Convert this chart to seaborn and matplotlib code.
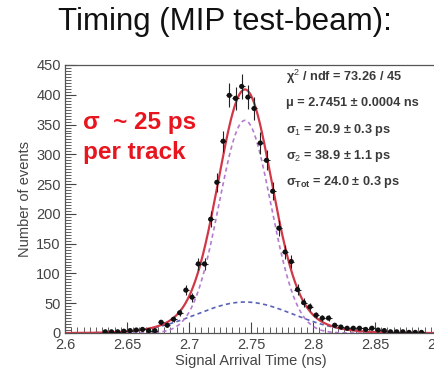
import numpy as np
import matplotlib
matplotlib.use("Agg")
import matplotlib.pyplot as plt
import seaborn as sns
from matplotlib.ticker import MultipleLocator

# bin centres (ns) and counts
bin_centers = [2.6325, 2.6375, 2.6425, 2.6475, 2.6525, 2.6575, 2.6625, 2.6675, 2.6725,
               2.6775, 2.6825, 2.6875, 2.6925, 2.6975, 2.7025, 2.7075, 2.7125, 2.7175,
               2.7225, 2.7275, 2.7325, 2.7375, 2.7425, 2.7475, 2.7525, 2.7575, 2.7625,
               2.7675, 2.7725, 2.7775, 2.7825, 2.7875, 2.7925, 2.7975, 2.8025, 2.8075,
               2.8125, 2.8175, 2.8225, 2.8275, 2.8325, 2.8375, 2.8425, 2.8475, 2.8525,
               2.8575, 2.8625, 2.8675, 2.8725, 2.8775, 2.8825, 2.8875]
counts = [2, 2, 2, 3, 4, 5, 6, 4, 4,
          18, 13, 23, 34, 72, 60, 116, 116, 191,
          253, 322, 399, 394, 414, 396, 377, 319, 290,
          238, 176, 136, 120, 73, 51, 44, 30, 25,
          25, 13, 10, 8, 8, 8, 6, 8, 5,
          4, 2, 2, 2, 1, 1, 1]
bin_width = 0.005

# fit parameters from the stats box
fit_mu = 2.7451
fit_sigma1 = 0.0209
fit_sigma2 = 0.0389
amp_narrow = 357
amp_wide = 52

stats_lines = ["\u03c7$^2$ / ndf = 73.26 / 45",
               "\u03bc = 2.7451 \u00b1 0.0004 ns",
               "\u03c3$_1$ = 20.9 \u00b1 0.3 ps",
               "\u03c3$_2$ = 38.9 \u00b1 1.1 ps",
               "\u03c3$_{Tot}$ = 24.0 \u00b1 0.3 ps"]

sns.set_style("white")
plt.rcParams['font.family'] = ['Liberation Sans', 'DejaVu Sans']
plt.rcParams['mathtext.fontset'] = 'custom'
plt.rcParams['mathtext.rm'] = 'Liberation Sans'
plt.rcParams['mathtext.it'] = 'Liberation Sans:bold'
plt.rcParams['mathtext.bf'] = 'Liberation Sans:bold'

W, H = 434, 380
fig = plt.figure(figsize=(W / 100, H / 100), dpi=100)
ax = fig.add_axes([65 / W, 47 / H, 372 / W, 268 / H])

x_fine = np.linspace(2.6, 2.9, 600)
g_narrow = amp_narrow * np.exp(-0.5 * ((x_fine - fit_mu) / fit_sigma1) ** 2)
g_wide = amp_wide * np.exp(-0.5 * ((x_fine - fit_mu) / fit_sigma2) ** 2)
total = g_narrow + g_wide

sns.lineplot(x=x_fine, y=g_wide, ax=ax, color='#5a62b8', lw=1.2, linestyle=(0, (2.5, 2)))
sns.lineplot(x=x_fine, y=g_narrow, ax=ax, color='#b57ad0', lw=1.2, linestyle=(0, (2.5, 2)))
sns.lineplot(x=x_fine, y=total, ax=ax, color='#d03848', lw=1.6)

yerr = np.sqrt(np.array(counts, dtype=float))
ax.errorbar(bin_centers, counts, yerr=yerr, xerr=bin_width / 2, fmt='none',
            ecolor='#222222', elinewidth=0.8, zorder=4)
sns.scatterplot(x=bin_centers, y=counts, ax=ax, color='#111111', s=14,
                edgecolor='none', zorder=5)

ax.set_xlim(2.6, 2.9)
ax.set_ylim(0, 450)
ax.xaxis.set_major_locator(MultipleLocator(0.05))
ax.xaxis.set_minor_locator(MultipleLocator(0.005))
ax.yaxis.set_major_locator(MultipleLocator(50))
ax.yaxis.set_minor_locator(MultipleLocator(5))
ax.set_xticks([2.6, 2.65, 2.7, 2.75, 2.8, 2.85, 2.9])
ax.set_xticklabels(['2.6', '2.65', '2.7', '2.75', '2.8', '2.85', '2.9'])
ax.tick_params(which='both', direction='in', colors='#444444', labelsize=10.5,
               top=False, right=False, bottom=True, left=True)
ax.tick_params(axis='x', which='major', length=8, width=0.8, pad=3.5)
ax.tick_params(axis='y', which='major', length=8, width=0.8, pad=3)
ax.tick_params(which='minor', length=4, width=0.6)
for sp in ax.spines.values():
    sp.set_color('#555555')
    sp.set_linewidth(0.9)

ax.set_xlabel('Signal Arrival Time (ns)', fontsize=10.5, color='#444444', labelpad=1.5)
ax.set_ylabel('Number of events', fontsize=10.5, color='#444444', labelpad=3)

fig.text(225 / W, 1 - 22 / H, 'Timing (MIP test-beam):', ha='center', va='center',
         fontsize=22.5, color='#111111')
fig.text(83 / W, 1 - 123 / H, '\u03c3  ~ 25 ps', ha='left', va='center',
         fontsize=17.5, fontweight='bold', color='#e8151f')
fig.text(83 / W, 1 - 152 / H, 'per track', ha='left', va='center',
         fontsize=17.5, fontweight='bold', color='#e8151f')

for i, line in enumerate(stats_lines):
    fig.text(286 / W, 1 - (77 + 26.3 * i) / H, line, ha='left', va='center',
             fontsize=9.2, fontweight='bold', color='#3a3a3a')

fig.savefig('out.png', dpi=100)
